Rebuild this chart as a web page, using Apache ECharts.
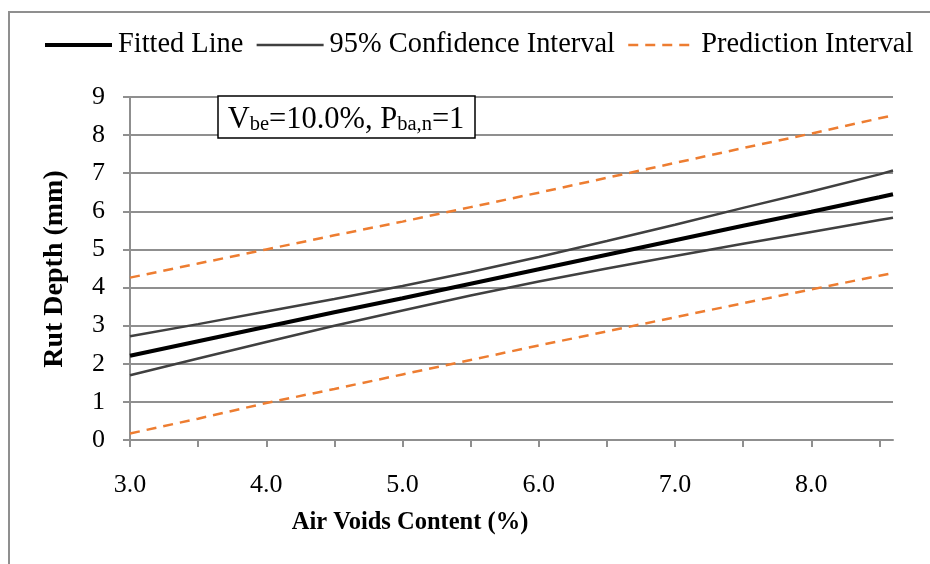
<!DOCTYPE html>
<html>
<head>
<meta charset="utf-8">
<style>
  html, body { margin: 0; padding: 0; background: #fff; }
  #chart { width: 930px; height: 564px; }
</style>
<script src="https://cdn.jsdelivr.net/npm/echarts@6/dist/echarts.min.js"></script>
</head>
<body>
<div id="chart"></div>
<script>
// Air voids content (%) at which each curve is sampled
const airVoids = [3.0, 3.5, 4.0, 4.5, 5.0, 5.5, 6.0, 6.5, 7.0, 7.5, 8.0, 8.5, 8.6];

// Rut depth (mm)
const fitted    = [2.21, 2.59, 2.97, 3.35, 3.72, 4.10, 4.48, 4.86, 5.24, 5.62, 5.99, 6.37, 6.45];
const ciUpper   = [2.72, 3.04, 3.37, 3.70, 4.04, 4.41, 4.80, 5.22, 5.65, 6.09, 6.52, 6.97, 7.07];
const ciLower   = [1.70, 2.14, 2.57, 3.00, 3.40, 3.79, 4.16, 4.50, 4.83, 5.15, 5.46, 5.77, 5.83];
const piUpper   = [4.26, 4.63, 5.00, 5.37, 5.73, 6.11, 6.49, 6.88, 7.27, 7.66, 8.04, 8.44, 8.52];
const piLower   = [0.17, 0.56, 0.97, 1.34, 1.72, 2.10, 2.48, 2.85, 3.22, 3.59, 3.95, 4.31, 4.38];

// Axis ticks and labels
const xTicks  = [3.0, 3.5, 4.0, 4.5, 5.0, 5.5, 6.0, 6.5, 7.0, 7.5, 8.0, 8.5];
const xLabels = [3, 4, 5, 6, 7, 8];

const seriesNames = ['Fitted Line', '95% Confidence Interval', 'Prediction Interval'];

const FONT = '"Liberation Serif", "Times New Roman", serif';
const GRID_GRAY = '#8f8f8f';
const CI_GRAY = '#404040';
const ORANGE = '#ED7D31';

const STYLES = {
  'Fitted Line':             { color: '#000', width: 4, type: 'solid' },
  '95% Confidence Interval': { color: CI_GRAY, width: 2.5, type: 'solid' },
  'Prediction Interval':     { color: ORANGE, width: 2.5, type: [10, 7] }
};

const pairs = ys => airVoids.map((x, i) => [x, ys[i]]);

function lineSeries(name, ys, z) {
  const st = STYLES[name];
  return {
    name: name,
    type: 'line',
    data: pairs(ys),
    symbol: 'none',
    silent: true,
    color: st.color,
    itemStyle: { color: st.color },
    lineStyle: { color: st.color, width: st.width, type: st.type },
    z: z
  };
}

const chart = echarts.init(document.getElementById('chart'), null, { renderer: 'canvas' });

chart.setOption({
  animation: false,
  backgroundColor: '#fff',
  textStyle: { fontFamily: FONT },
  grid: { left: 130, right: 37, top: 97, bottom: 124, containLabel: false },
  legend: {
    data: seriesNames.map(n => ({
      name: n,
      lineStyle: { color: STYLES[n].color, width: STYLES[n].width, type: STYLES[n].type }
    })),
    left: 43,
    top: 31,
    padding: 0,
    itemWidth: 67,
    itemHeight: 14,
    itemGap: 12,
    itemStyle: { opacity: 0 },
    textStyle: { fontFamily: FONT, fontSize: 28.4, color: '#000', padding: [0, 0, 0, 1] }
  },
  xAxis: {
    type: 'value',
    min: 3.0,
    max: 8.6,
    interval: 0.5,
    axisLine: { show: true, lineStyle: { color: GRID_GRAY, width: 2 } },
    axisTick: { show: true, inside: false, length: 7, customValues: xTicks,
                lineStyle: { color: GRID_GRAY, width: 2 } },
    axisLabel: { customValues: xLabels, margin: 32, fontFamily: FONT, fontSize: 26, color: '#000',
                 formatter: v => Number(v).toFixed(1) },
    splitLine: { show: false }
  },
  yAxis: {
    type: 'value',
    min: 0,
    max: 9,
    interval: 1,
    axisLine: { show: true, lineStyle: { color: GRID_GRAY, width: 2 } },
    axisTick: { show: true, inside: false, length: 7, lineStyle: { color: GRID_GRAY, width: 2 } },
    axisLabel: { margin: 25, fontFamily: FONT, fontSize: 26, color: '#000' },
    splitLine: { show: true, lineStyle: { color: GRID_GRAY, width: 2 } }
  },
  series: [
    lineSeries('Prediction Interval', piUpper, 2),
    lineSeries('Prediction Interval', piLower, 2),
    lineSeries('95% Confidence Interval', ciUpper, 2),
    lineSeries('95% Confidence Interval', ciLower, 2),
    lineSeries('Fitted Line', fitted, 3)
  ],
  graphic: [
    // chart-area frame
    {
      type: 'rect', silent: true, z: -1,
      shape: { x: 9, y: 12, width: 1000, height: 1000 },
      style: { fill: 'none', stroke: GRID_GRAY, lineWidth: 2 }
    },
    // model parameter box
    {
      type: 'rect', silent: true, z: 10,
      shape: { x: 218, y: 96, width: 257, height: 42 },
      style: { fill: '#fff', stroke: '#000', lineWidth: 1.5 }
    },
    {
      type: 'text', silent: true, z: 11,
      x: 346, y: 119,
      style: {
        text: '{m|V}{s|be}{m|=10.0%, P}{s|ba,n}{m|=1}',
        align: 'center',
        verticalAlign: 'middle',
        rich: {
          m: { fontFamily: FONT, fontSize: 30.5, color: '#000', lineHeight: 32, verticalAlign: 'bottom' },
          s: { fontFamily: FONT, fontSize: 20.5, color: '#000', lineHeight: 20, verticalAlign: 'bottom',
               padding: [20, 0, 0, 0] }
        }
      }
    },
    // axis titles
    {
      type: 'text', silent: true,
      x: 410, y: 523,
      style: {
        text: 'Air Voids Content (%)',
        fontFamily: FONT, fontSize: 24.5, fontWeight: 'bold', fill: '#000',
        align: 'center', verticalAlign: 'middle'
      }
    },
    {
      type: 'text', silent: true,
      x: 55, y: 269, rotation: Math.PI / 2,
      style: {
        text: 'Rut Depth (mm)',
        fontFamily: FONT, fontSize: 28, fontWeight: 'bold', fill: '#000',
        align: 'center', verticalAlign: 'middle'
      }
    }
  ]
});
</script>
</body>
</html>
